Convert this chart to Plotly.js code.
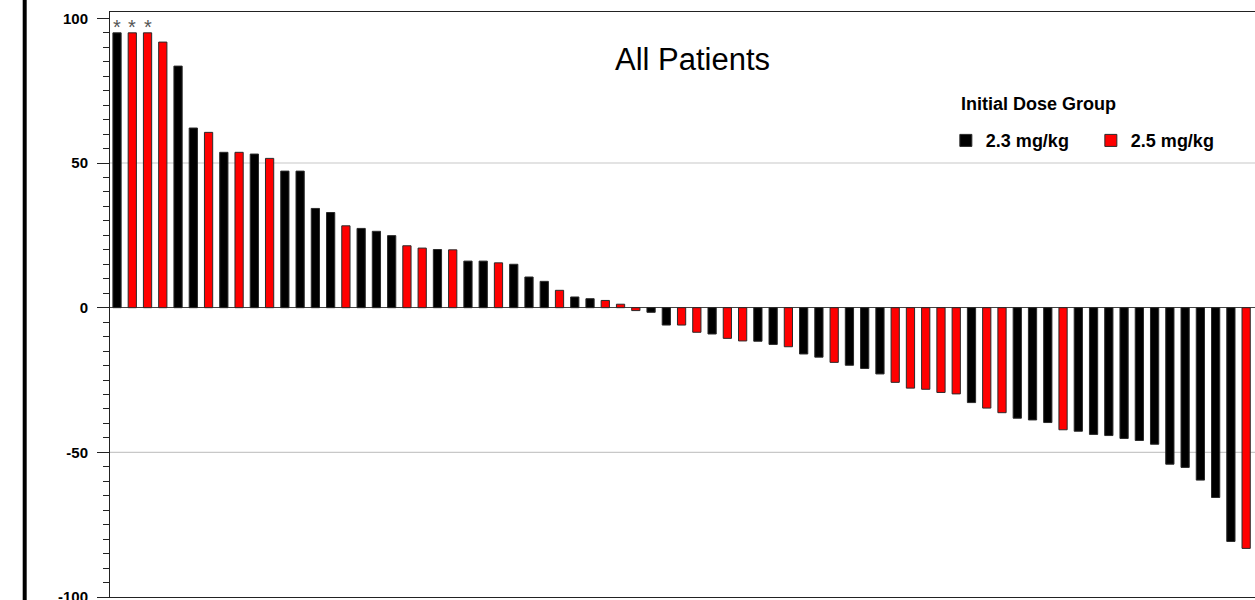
<!DOCTYPE html>
<html>
<head>
<meta charset="utf-8">
<script src="https://cdn.plot.ly/plotly-3.0.1.min.js"></script>
<style>
  html, body { margin: 0; padding: 0; background: #fff; }
  #chart { width: 1255px; height: 600px; }
</style>
</head>
<body>
<div id="chart"></div>
<script>
// Best % change per patient, sorted (waterfall)
const patients = [
  1,2,3,4,5,6,7,8,9,10,11,12,13,14,15,16,17,18,19,20,
  21,22,23,24,25,26,27,28,29,30,31,32,33,34,35,36,37,38,39,40,
  41,42,43,44,45,46,47,48,49,50,51,52,53,54,55,56,57,58,59,60,
  61,62,63,64,65,66,67,68,69,70,71,72,73,74,75
];
const change = [
  95, 95, 95, 91.8, 83.5, 62.1, 60.6, 53.7, 53.7, 53.1,
  51.6, 47.2, 47.2, 34.3, 32.9, 28.3, 27.4, 26.4, 24.9, 21.4,
  20.6, 20.1, 20.0, 16.1, 16.1, 15.5, 15.0, 10.6, 9.1, 6.0,
  3.7, 3.1, 2.5, 1.2, -1.0, -1.6, -6.0, -6.0, -8.5, -9.1,
  -10.6, -11.5, -11.6, -12.7, -13.5, -16.0, -17.1, -18.9, -19.9, -21.0,
  -22.9, -25.8, -27.8, -28.2, -29.3, -29.8, -32.8, -34.7, -36.3, -38.2,
  -38.8, -39.7, -42.2, -42.7, -43.8, -44.2, -45.2, -45.9, -47.2, -54.1,
  -55.2, -59.6, -65.6, -80.8, -83.2
];
const dose = [
  '2.3','2.5','2.5','2.5','2.3','2.3','2.5','2.3','2.5','2.3',
  '2.5','2.3','2.3','2.3','2.3','2.5','2.3','2.3','2.3','2.5',
  '2.5','2.3','2.5','2.3','2.3','2.5','2.3','2.3','2.3','2.5',
  '2.3','2.3','2.5','2.5','2.5','2.3','2.3','2.5','2.5','2.3',
  '2.5','2.5','2.3','2.3','2.5','2.3','2.3','2.5','2.3','2.3',
  '2.3','2.5','2.5','2.5','2.5','2.5','2.3','2.5','2.5','2.3',
  '2.3','2.3','2.5','2.3','2.3','2.3','2.3','2.3','2.3','2.3',
  '2.3','2.3','2.3','2.3','2.5'
];
// patients whose value was capped (marked with *)
const flagged = [1, 2, 3];
const groups = ['2.3', '2.5'];
const groupNames = ['2.3 mg/kg', '2.5 mg/kg'];
const groupColors = ['#000000', '#ff0000'];
const yTicks = [-100, -50, 0, 50, 100];

const FONT = 'Liberation Sans, Arial, Helvetica, sans-serif';

const traces = groups.map((g, gi) => {
  const xs = [], ys = [];
  patients.forEach((p, i) => { if (dose[i] === g) { xs.push(p); ys.push(change[i]); } });
  return {
    type: 'bar',
    name: groupNames[gi],
    x: xs,
    y: ys,
    width: 0.54,
    marker: { color: groupColors[gi], line: { color: '#2a2a2a', width: 1 } },
    hoverinfo: 'x+y'
  };
});

const starAnnotations = flagged.map(p => ({
  x: p, y: change[patients.indexOf(p)], xref: 'x', yref: 'y',
  text: '*', showarrow: false, yanchor: 'bottom', yshift: -7,
  font: { family: FONT, size: 20, color: '#555555' }
}));

const layout = {
  width: 1255,
  height: 600,
  margin: { l: 110, r: 0, t: 12, b: 3, pad: 0 },
  paper_bgcolor: '#ffffff',
  plot_bgcolor: '#ffffff',
  barmode: 'overlay',
  showlegend: true,
  title: {
    text: 'All Patients',
    font: { family: FONT, size: 31, color: '#000000' },
    x: 692.5 / 1255, xref: 'container', xanchor: 'center',
    y: 1 - 59 / 600, yref: 'container', yanchor: 'middle'
  },
  legend: {
    orientation: 'h',
    x: 0.730, xanchor: 'left',
    y: 0.780, yanchor: 'middle',
    font: { family: FONT, size: 18, color: '#000000', weight: 'bold' },
    bgcolor: 'rgba(0,0,0,0)',
    entrywidth: 100,
    entrywidthmode: 'pixels',
    traceorder: 'normal'
  },
  xaxis: {
    range: [0.54, 75.58],
    showticklabels: false,
    ticks: '',
    showgrid: false,
    zeroline: false,
    showline: true,
    linecolor: '#222222',
    linewidth: 1,
    mirror: true,
    fixedrange: true
  },
  yaxis: {
    range: [-100, 102.2],
    tickvals: yTicks,
    ticktext: yTicks.map(String),
    ticks: 'outside',
    ticklen: 12,
    tickwidth: 1,
    tickcolor: '#222222',
    ticklabelstandoff: 6,
    ticklabeloverflow: 'allow',
    tickfont: { family: FONT, size: 15, color: '#000000', weight: 'bold' },
    minor: { dtick: 5, ticks: 'outside', ticklen: 6, tickwidth: 1, tickcolor: '#222222', showgrid: false },
    showgrid: false,
    showline: true,
    linecolor: '#222222',
    linewidth: 1,
    zeroline: true,
    zerolinecolor: '#444444',
    zerolinewidth: 1.5,
    fixedrange: true
  },
  shapes: [
    { type: 'line', xref: 'paper', yref: 'y', x0: 0, x1: 1, y0: 50, y1: 50,
      line: { color: '#c8c8c8', width: 1.2 }, layer: 'below' },
    { type: 'line', xref: 'paper', yref: 'y', x0: 0, x1: 1, y0: -50, y1: -50,
      line: { color: '#c8c8c8', width: 1.2 }, layer: 'below' },
    { type: 'line', xref: 'paper', yref: 'paper', x0: -0.0745, x1: -0.0745, y0: -0.02, y1: 1.03,
      line: { color: '#000000', width: 4 } }
  ],
  annotations: [
    { xref: 'paper', yref: 'paper', x: 0.7415, y: 0.8427, xanchor: 'left', yanchor: 'middle',
      text: '<b>Initial Dose Group</b>', showarrow: false,
      font: { family: FONT, size: 18, color: '#000000' } }
  ].concat(starAnnotations)
};

Plotly.newPlot('chart', traces, layout, { displayModeBar: false, staticPlot: true });
</script>
</body>
</html>
